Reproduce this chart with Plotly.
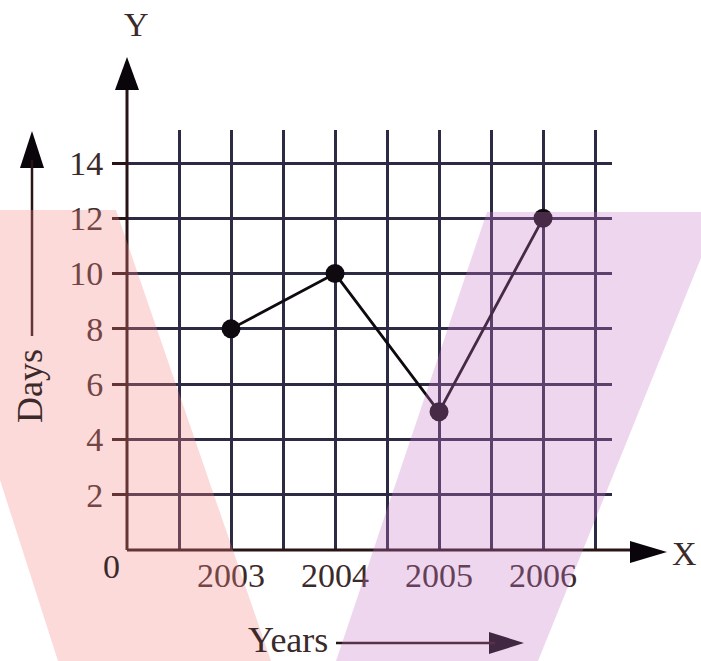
import plotly.graph_objects as go

# ---- data ----
years = [2003, 2004, 2005, 2006]
days = [8, 10, 5, 12]
x_tick_vals = [2002.5, 2003, 2003.5, 2004, 2004.5, 2005, 2005.5, 2006, 2006.5]
x_tick_text = ["", "2003", "", "2004", "", "2005", "", "2006", ""]
y_tick_vals = [2, 4, 6, 8, 10, 12, 14]
y_tick_text = ["2", "4", "6", "8", "10", "12", "14"]
x_range = [2002, 2006.663]
y_range = [0, 15.195]

W, H = 701, 661
FONT = "Liberation Serif"
TXT = "rgb(60,42,42)"
GRID = "rgb(45,42,68)"
AXC = "rgb(40,20,20)"


def P(px, py):
    return px / W, 1 - py / H


def path(points):
    s = ""
    for i, (px, py) in enumerate(points):
        x, y = P(px, py)
        s += ("M" if i == 0 else "L") + f"{x:.5f},{y:.5f} "
    return s + "Z"


fig = go.Figure()
fig.add_trace(go.Scatter(
    x=years, y=days, mode="lines+markers",
    line=dict(color="rgb(15,10,15)", width=2.8),
    marker=dict(color="rgb(15,10,15)", size=19),
    cliponaxis=False, showlegend=False, hoverinfo="skip"))

shapes = []
line_style = dict(color=AXC, width=3)
# axis lines
shapes.append(dict(type="line", xref="paper", yref="paper",
                   x0=P(127, 550)[0], y0=P(127, 550)[1], x1=P(127, 75)[0], y1=P(127, 75)[1], line=line_style))
shapes.append(dict(type="line", xref="paper", yref="paper",
                   x0=P(127, 550)[0], y0=P(127, 550)[1], x1=P(645, 550)[0], y1=P(645, 550)[1], line=line_style))
# arrowheads
heads = [
    [(127, 57), (115, 90), (139, 90)],      # Y axis
    [(667, 552), (630, 541), (630, 563)],    # X axis
    [(32, 131), (20, 168), (44, 168)],       # Days arrow
    [(524, 643), (489, 632), (489, 654)],    # Years arrow
]
for h in heads:
    shapes.append(dict(type="path", xref="paper", yref="paper", path=path(h),
                       fillcolor="rgb(10,5,10)", line=dict(width=0)))
# Days arrow line and Years arrow line
shapes.append(dict(type="line", xref="paper", yref="paper",
                   x0=P(32, 160)[0], y0=P(32, 160)[1], x1=P(32, 336)[0], y1=P(32, 336)[1],
                   line=dict(color=AXC, width=2.5)))
shapes.append(dict(type="line", xref="paper", yref="paper",
                   x0=P(336, 643)[0], y0=P(336, 643)[1], x1=P(495, 643)[0], y1=P(495, 643)[1],
                   line=dict(color=AXC, width=2.5)))
# translucent overlays
shapes.append(dict(type="path", xref="paper", yref="paper", layer="above",
                   path=path([(0, 210), (116, 210), (271, 661), (58, 661), (0, 480)]),
                   fillcolor="rgb(245,132,132)", opacity=0.3, line=dict(width=0)))
shapes.append(dict(type="path", xref="paper", yref="paper", layer="above",
                   path=path([(487, 212), (701, 212), (701, 258), (538, 661), (336, 661)]),
                   fillcolor="rgb(198,118,198)", opacity=0.3, line=dict(width=0)))

ann_font = dict(family=FONT, size=34, color=TXT)
annotations = [
    dict(text="Y", x=P(136, 24)[0], y=P(136, 24)[1], xref="paper", yref="paper",
         showarrow=False, font=ann_font, xanchor="center", yanchor="middle"),
    dict(text="X", x=P(699, 553)[0], y=P(699, 553)[1], xref="paper", yref="paper",
         showarrow=False, font=ann_font, xanchor="right", yanchor="middle"),
    dict(text="0", x=P(111, 566)[0], y=P(111, 566)[1], xref="paper", yref="paper",
         showarrow=False, font=ann_font, xanchor="center", yanchor="middle"),
    dict(text="Days", x=P(30, 386)[0], y=P(30, 386)[1], xref="paper", yref="paper",
         showarrow=False, font=dict(family=FONT, size=36, color=TXT), textangle=-90,
         xanchor="center", yanchor="middle"),
    dict(text="Years", x=P(288, 640)[0], y=P(288, 640)[1], xref="paper", yref="paper",
         showarrow=False, font=dict(family=FONT, size=36, color=TXT),
         xanchor="center", yanchor="middle"),
]

fig.update_layout(
    width=W, height=H,
    margin=dict(l=0, r=0, t=0, b=0),
    paper_bgcolor="white", plot_bgcolor="white",
    shapes=shapes, annotations=annotations,
    xaxis=dict(domain=[127 / W, 612 / W], range=x_range, tickmode="array",
               tickvals=x_tick_vals, ticktext=x_tick_text, showgrid=True,
               gridcolor=GRID, gridwidth=2.5, zeroline=False, showline=False,
               ticks="", tickfont=dict(family=FONT, size=34, color=TXT),
               ticklabelstandoff=2, fixedrange=True),
    yaxis=dict(domain=[1 - 550 / H, 1 - 130 / H], range=y_range, tickmode="array",
               tickvals=y_tick_vals, ticktext=y_tick_text, showgrid=True,
               gridcolor=GRID, gridwidth=2.5, zeroline=False, showline=False,
               ticks="outside", ticklen=14, tickwidth=2.5, tickcolor=AXC,
               tickfont=dict(family=FONT, size=34, color=TXT), ticklabelstandoff=2,
               fixedrange=True),
)

fig.write_html("out.html", config={"displayModeBar": False},
               post_script="document.body.style.margin='0px';document.body.style.overflow='hidden';")
